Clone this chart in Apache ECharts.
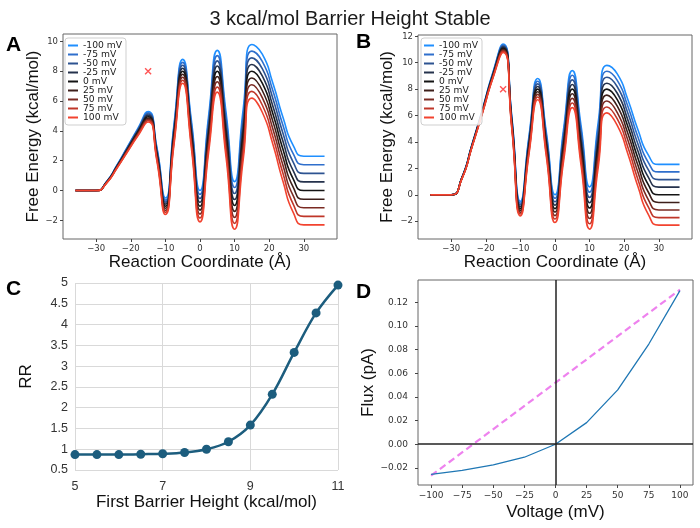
<!DOCTYPE html>
<html>
<head>
<meta charset="utf-8">
<script src="https://cdn.jsdelivr.net/npm/echarts@6.0.0/dist/echarts.min.js"></script>
<style>
  html, body { margin: 0; padding: 0; background: #fff; }
  #main { width: 700px; height: 528px; }
</style>
</head>
<body>
<div id="main"></div>
<script>
// ---- data ----
const voltages = ['-100 mV', '-75 mV', '-50 mV', '-25 mV', '0 mV', '25 mV', '50 mV', '75 mV', '100 mV']
const lineColors = ['#1f8fff', '#2f6fcc', '#2d5391', '#25324c', '#141414', '#3d1f1a', '#7a2a22', '#bf3629', '#f2432f']

// reaction coordinate (Å) where the profiles were read
const coord = [-36, -30, -27, -24, -21, -18, -15, -12.5, -10, -7.5, -5, -2.5, 0, 2.5, 5, 7.5, 10, 12.5, 15, 18, 21, 24, 27, 30, 36]

// panel A free energy (kcal/mol), one row per voltage
const energyA = [
  [0, 0, 0.6, 1.7, 2.92, 4.15, 5.3, 2.95, -0.5, 4.48, 8.8, 4.72, 0, 5.02, 9.4, 5.3, 0.6, 5.5, 9.8, 9.15, 7.25, 4.9, 3.0, 2.3, 2.3],
  [0, 0, 0.59, 1.68, 2.88, 4.09, 5.21, 2.84, -0.64, 4.31, 8.6, 4.49, -0.26, 4.72, 9.05, 4.93, 0.2, 5.08, 9.35, 8.66, 6.74, 4.36, 2.44, 1.73, 1.73],
  [0, 0, 0.58, 1.65, 2.84, 4.03, 5.13, 2.73, -0.78, 4.14, 8.4, 4.26, -0.53, 4.41, 8.7, 4.55, -0.2, 4.65, 8.9, 8.18, 6.23, 3.83, 1.88, 1.15, 1.15],
  [0, 0, 0.56, 1.63, 2.79, 3.96, 5.04, 2.61, -0.91, 3.97, 8.2, 4.03, -0.79, 4.11, 8.35, 4.18, -0.6, 4.23, 8.45, 7.69, 5.71, 3.29, 1.31, 0.58, 0.58],
  [0, 0, 0.55, 1.6, 2.75, 3.9, 4.95, 2.5, -1.05, 3.8, 8.0, 3.8, -1.05, 3.8, 8.0, 3.8, -1.0, 3.8, 8.0, 7.2, 5.2, 2.75, 0.75, 0, 0],
  [0, 0, 0.54, 1.58, 2.71, 3.84, 4.86, 2.39, -1.19, 3.63, 7.8, 3.57, -1.31, 3.5, 7.65, 3.43, -1.4, 3.38, 7.55, 6.71, 4.69, 2.21, 0.19, -0.58, -0.58],
  [0, 0, 0.53, 1.55, 2.67, 3.78, 4.78, 2.28, -1.33, 3.46, 7.6, 3.34, -1.58, 3.19, 7.3, 3.05, -1.8, 2.95, 7.1, 6.23, 4.18, 1.68, -0.38, -1.15, -1.15],
  [0, 0, 0.51, 1.53, 2.62, 3.71, 4.69, 2.16, -1.46, 3.29, 7.4, 3.11, -1.84, 2.89, 6.95, 2.68, -2.2, 2.53, 6.65, 5.74, 3.66, 1.14, -0.94, -1.73, -1.73],
  [0, 0, 0.5, 1.5, 2.58, 3.65, 4.6, 2.05, -1.6, 3.12, 7.2, 2.88, -2.1, 2.58, 6.6, 2.3, -2.6, 2.1, 6.2, 5.25, 3.15, 0.6, -1.5, -2.3, -2.3]
]

// panel B free energy (kcal/mol), taller first barrier
const energyB = [
  [0, 0, 1.25, 3.8, 6.45, 9.22, 11.42, 5.95, -0.5, 4.48, 8.8, 4.72, 0, 5.02, 9.4, 5.3, 0.6, 5.5, 9.8, 9.15, 7.25, 4.9, 3.0, 2.3, 2.3],
  [0, 0, 1.24, 3.78, 6.41, 9.17, 11.34, 5.84, -0.64, 4.31, 8.6, 4.49, -0.26, 4.72, 9.05, 4.93, 0.2, 5.08, 9.35, 8.66, 6.74, 4.36, 2.44, 1.73, 1.73],
  [0, 0, 1.23, 3.75, 6.38, 9.11, 11.26, 5.73, -0.78, 4.14, 8.4, 4.26, -0.53, 4.41, 8.7, 4.55, -0.2, 4.65, 8.9, 8.18, 6.23, 3.83, 1.88, 1.15, 1.15],
  [0, 0, 1.21, 3.73, 6.34, 9.06, 11.18, 5.61, -0.91, 3.97, 8.2, 4.03, -0.79, 4.11, 8.35, 4.18, -0.6, 4.23, 8.45, 7.69, 5.71, 3.29, 1.31, 0.58, 0.58],
  [0, 0, 1.2, 3.7, 6.3, 9.0, 11.1, 5.5, -1.05, 3.8, 8.0, 3.8, -1.05, 3.8, 8.0, 3.8, -1.0, 3.8, 8.0, 7.2, 5.2, 2.75, 0.75, 0, 0],
  [0, 0, 1.19, 3.68, 6.26, 8.95, 11.02, 5.39, -1.19, 3.63, 7.8, 3.57, -1.31, 3.5, 7.65, 3.43, -1.4, 3.38, 7.55, 6.71, 4.69, 2.21, 0.19, -0.58, -0.58],
  [0, 0, 1.18, 3.65, 6.23, 8.89, 10.94, 5.28, -1.33, 3.46, 7.6, 3.34, -1.58, 3.19, 7.3, 3.05, -1.8, 2.95, 7.1, 6.23, 4.18, 1.68, -0.38, -1.15, -1.15],
  [0, 0, 1.16, 3.63, 6.19, 8.84, 10.86, 5.16, -1.46, 3.29, 7.4, 3.11, -1.84, 2.89, 6.95, 2.68, -2.2, 2.53, 6.65, 5.74, 3.66, 1.14, -0.94, -1.73, -1.73],
  [0, 0, 1.15, 3.6, 6.15, 8.78, 10.78, 5.05, -1.6, 3.12, 7.2, 2.88, -2.1, 2.58, 6.6, 2.3, -2.6, 2.1, 6.2, 5.25, 3.15, 0.6, -1.5, -2.3, -2.3]
]

const barrierMark = [[-15, 8]]
const coordTicks = [-30, -20, -10, 0, 10, 20, 30]
const energyTicksA = [-2, 0, 2, 4, 6, 8, 10]
const energyTicksB = [-2, 0, 2, 4, 6, 8, 10, 12]

// panel C
const barrierHeight = [5, 5.5, 6, 6.5, 7, 7.5, 8, 8.5, 9, 9.5, 10, 10.5, 11]
const rr = [0.87, 0.87, 0.87, 0.88, 0.89, 0.92, 1.0, 1.18, 1.58, 2.32, 3.33, 4.28, 4.95]

// panel D
const voltageMv = [-100, -75, -50, -25, 0, 25, 50, 75, 100]
const flux = [-0.0255, -0.0222, -0.0175, -0.011, 0.0, 0.0183, 0.046, 0.0848, 0.13]
const linearV = [-100, 100]
const linearFlux = [-0.0266, 0.1308]
const voltTicks = [-100, -75, -50, -25, 0, 25, 50, 75, 100]
const fluxTicks = [-0.02, 0, 0.02, 0.04, 0.06, 0.08, 0.1, 0.12]

// ---- helpers ----
const minus = v => (v < 0 ? '\u2212' : '') + Math.abs(v)
const minus2 = v => (v < -1e-9 ? '\u2212' : '') + Math.abs(v).toFixed(2)
const nameFont = { fontFamily: 'Liberation Sans', fontSize: 17, color: '#111' }
const tickFont = { fontFamily: 'DejaVu Sans', fontSize: 8.5, color: '#333' }

function mplAxis(grid, min, max, ticks, fmt, extra) {
  return Object.assign({
    gridIndex: grid,
    type: 'value',
    min: min,
    max: max,
    axisLine: { show: false, onZero: false },
    splitLine: { show: false },
    axisTick: { show: true, length: 3, customValues: ticks, lineStyle: { color: '#444' } },
    axisLabel: Object.assign({ customValues: ticks, formatter: fmt, margin: 5 }, tickFont),
    nameLocation: 'middle',
    nameTextStyle: nameFont
  }, extra)
}

function energySeries(rows, xi) {
  return rows.map((row, k) => ({
    name: voltages[k],
    type: 'line',
    xAxisIndex: xi,
    yAxisIndex: xi,
    data: coord.map((x, i) => [x, row[i]]),
    smooth: 0.6,
    symbol: 'none',
    lineStyle: { color: lineColors[k], width: 1.6 },
    itemStyle: { color: lineColors[k] },
    silent: true
  }))
}

function crossMark(xi) {
  return {
    type: 'scatter',
    xAxisIndex: xi,
    yAxisIndex: xi,
    data: barrierMark,
    symbol: 'path://M0,0L10,10M10,0L0,10',
    symbolSize: 6,
    itemStyle: { color: 'none', borderColor: '#ff2a2a', borderWidth: 1.4 },
    z: 20,
    silent: true
  }
}

function legendAt(left) {
  return {
    data: voltages,
    left: left,
    top: 38,
    orient: 'vertical',
    icon: 'rect',
    itemWidth: 10,
    itemHeight: 2,
    itemGap: 0,
    padding: [3, 4, 3, 3],
    borderColor: '#cfcfcf',
    borderWidth: 1,
    borderRadius: 3,
    backgroundColor: 'rgba(255,255,255,0.85)',
    selectedMode: false,
    textStyle: { fontFamily: 'DejaVu Sans', fontSize: 9.2, color: '#222', lineHeight: 8.5 }
  }
}

const myChart = echarts.init(document.getElementById('main'))

const option = {
  animation: false,
  backgroundColor: '#fff',
  title: [{
    text: '3 kcal/mol Barrier Height Stable',
    left: 'center',
    top: 4,
    textStyle: { fontFamily: 'Liberation Sans', fontSize: 20, fontWeight: 'normal', color: '#1a1a1a' }
  }],
  graphic: [
    { type: 'text', left: 6, top: 35, style: { text: 'A', font: 'bold 21px "Liberation Sans"', fill: '#000' } },
    { type: 'text', left: 356, top: 32, style: { text: 'B', font: 'bold 21px "Liberation Sans"', fill: '#000' } },
    { type: 'text', left: 6, top: 279, style: { text: 'C', font: 'bold 21px "Liberation Sans"', fill: '#000' } },
    { type: 'text', left: 356, top: 282, style: { text: 'D', font: 'bold 21px "Liberation Sans"', fill: '#000' } }
  ],
  legend: [legendAt(65), legendAt(421)],
  grid: [
    { left: 63, top: 34, width: 274, height: 205, show: true, borderColor: '#666', borderWidth: 1 },
    { left: 418, top: 35, width: 274, height: 204, show: true, borderColor: '#666', borderWidth: 1 },
    { left: 75, top: 283, width: 263, height: 187 },
    { left: 418, top: 280, width: 275, height: 205, show: true, borderColor: '#666', borderWidth: 1 }
  ],
  xAxis: [
    mplAxis(0, -39.6, 39.6, coordTicks, minus, { name: 'Reaction Coordinate (Å)', nameGap: 15 }),
    mplAxis(1, -39.6, 39.6, coordTicks, minus, { name: 'Reaction Coordinate (Å)', nameGap: 15 }),
    {
      gridIndex: 2, type: 'value', min: 5, max: 11, interval: 2,
      axisLine: { show: false, onZero: false }, axisTick: { show: false },
      splitLine: { show: true, lineStyle: { color: '#d9d9d9', width: 1 } },
      axisLabel: { fontFamily: 'Liberation Sans', fontSize: 12.5, color: '#333', margin: 10 },
      name: 'First Barrier Height (kcal/mol)', nameLocation: 'middle', nameGap: 24, nameTextStyle: nameFont
    },
    mplAxis(3, -110.5, 110.5, voltTicks, minus, {
      name: 'Voltage (mV)', nameGap: 19,
      axisLabel: Object.assign({ customValues: voltTicks, formatter: minus, margin: 6 }, tickFont, { fontSize: 9 })
    })
  ],
  yAxis: [
    mplAxis(0, -3.25, 10.5, energyTicksA, minus, { name: 'Free Energy (kcal/mol)', nameGap: 20 }),
    mplAxis(1, -3.35, 12.1, energyTicksB, minus, { name: 'Free Energy (kcal/mol)', nameGap: 22 }),
    {
      gridIndex: 2, type: 'value', min: 0.5, max: 5, interval: 0.5,
      axisLine: { show: false, onZero: false }, axisTick: { show: false },
      splitLine: { show: true, lineStyle: { color: '#d9d9d9', width: 1 } },
      axisLabel: { fontFamily: 'Liberation Sans', fontSize: 12.5, color: '#333', margin: 7 },
      name: 'RR', nameLocation: 'middle', nameGap: 40, nameTextStyle: nameFont
    },
    mplAxis(3, -0.0345, 0.139, fluxTicks, minus2, {
      name: 'Flux (pA)', nameGap: 35,
      axisLabel: Object.assign({ customValues: fluxTicks, formatter: minus2, margin: 10 }, tickFont, { fontSize: 9 })
    })
  ],
  series: [
    ...energySeries(energyA, 0),
    crossMark(0),
    ...energySeries(energyB, 1),
    crossMark(1),
    {
      type: 'line', xAxisIndex: 2, yAxisIndex: 2,
      data: barrierHeight.map((x, i) => [x, rr[i]]),
      smooth: 0.35, symbol: 'circle', symbolSize: 9,
      lineStyle: { color: '#1c5d7e', width: 2.5 },
      itemStyle: { color: '#1c5d7e' }
    },
    {
      type: 'line', xAxisIndex: 3, yAxisIndex: 3,
      data: linearV.map((x, i) => [x, linearFlux[i]]),
      symbol: 'none',
      lineStyle: { color: '#ee82ee', width: 2.2, type: [7, 4] }
    },
    {
      type: 'line', xAxisIndex: 3, yAxisIndex: 3,
      data: voltageMv.map((x, i) => [x, flux[i]]),
      symbol: 'none',
      lineStyle: { color: '#1f77b4', width: 1.3 },
      markLine: {
        silent: true, symbol: 'none', label: { show: false },
        lineStyle: { color: '#222', width: 1.5, type: 'solid' },
        data: [{ xAxis: 0 }, { yAxis: 0 }]
      }
    }
  ]
}

myChart.setOption(option)
</script>
</body>
</html>
